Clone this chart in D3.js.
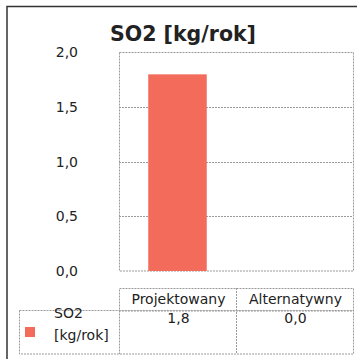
<!DOCTYPE html>
<html>
<head>
<meta charset="utf-8">
<script src="https://cdn.jsdelivr.net/npm/d3@7"></script>
<style>
  html, body { margin: 0; padding: 0; background: #fff; }
  svg { display: block; }
  text { font-family: "DejaVu Sans", "Liberation Sans", Arial, sans-serif; fill: #222; }
</style>
</head>
<body>
<svg id="chart" width="357" height="359"></svg>
<script>
// Emission data
const title = "SO2 [kg/rok]";
const categories = ["Projektowany", "Alternatywny"];
const seriesName = ["SO2", "[kg/rok]"];
const values = [1.8, 0.0];
const tickValues = [0, 0.5, 1.0, 1.5, 2.0];
const barColor = "#F26B5B";

const fmt = v => d3.format(".1f")(v).replace(".", ",");

const svg = d3.select("#chart");

// outer frame (top and left edges)
svg.append("path")
  .attr("d", "M7,359 L7,6.5 L357,6.5")
  .attr("fill", "none")
  .attr("stroke", "#333")
  .attr("stroke-width", 1.5);

const plot = { left: 119, right: 353, top: 52.5, bottom: 271 };

const y = d3.scaleLinear().domain([0, 2]).range([plot.bottom, plot.top]);
const x = d3.scaleBand().domain(categories)
  .range([plot.left, plot.right])
  .paddingInner(0.5).paddingOuter(0.25);
const col = d3.scaleBand().domain(categories).range([plot.left, plot.right]);

// title
svg.append("text")
  .attr("x", 183).attr("y", 41)
  .attr("text-anchor", "middle")
  .attr("font-weight", "bold")
  .attr("font-size", 20.5)
  .text(title);

// gridlines
svg.append("g").selectAll("line")
  .data(tickValues.filter(t => t > 0 && t < 2))
  .join("line")
  .attr("x1", plot.left).attr("x2", plot.right)
  .attr("y1", d => Math.round(y(d)) + 0.5).attr("y2", d => Math.round(y(d)) + 0.5)
  .attr("stroke", "#9a9a9a")
  .attr("stroke-dasharray", "2,1");

// plot frame
svg.append("rect")
  .attr("x", plot.left + 0.5).attr("y", plot.top)
  .attr("width", plot.right - plot.left).attr("height", plot.bottom - plot.top)
  .attr("fill", "none")
  .attr("stroke", "#9a9a9a")
  .attr("stroke-dasharray", "2,1");

// y axis labels
const yAxis = d3.axisLeft(y).tickValues(tickValues).tickFormat(fmt).tickSize(0).tickPadding(0);
const gy = svg.append("g").attr("transform", "translate(78,0)").call(yAxis);
gy.select(".domain").remove();
gy.selectAll("text")
  .attr("font-size", 14)
  .attr("font-family", "DejaVu Sans, sans-serif")
  .attr("fill", "#222");

// bars
svg.append("g").selectAll("rect")
  .data(values)
  .join("rect")
  .attr("x", (d, i) => x(categories[i]))
  .attr("width", x.bandwidth())
  .attr("y", d => y(d))
  .attr("height", d => y(0) - y(d))
  .attr("fill", barColor);

// data table
const tbl = { headTop: 288, rowTop: 310.5, rowBottom: 354, legendLeft: 19 };
const tg = svg.append("g")
  .attr("fill", "none")
  .attr("stroke", "#9a9a9a")
  .attr("stroke-dasharray", "2,1");
tg.append("rect")
  .attr("x", plot.left + 0.5).attr("y", tbl.headTop + 0.5)
  .attr("width", plot.right - plot.left).attr("height", tbl.rowTop - tbl.headTop);
tg.append("rect")
  .attr("x", tbl.legendLeft + 0.5).attr("y", tbl.rowTop)
  .attr("width", plot.right - tbl.legendLeft).attr("height", tbl.rowBottom - tbl.rowTop);
tg.append("line")
  .attr("x1", col(categories[1]) + 0.5).attr("x2", col(categories[1]) + 0.5)
  .attr("y1", tbl.headTop).attr("y2", tbl.rowBottom);
tg.append("line")
  .attr("x1", plot.left + 0.5).attr("x2", plot.left + 0.5)
  .attr("y1", tbl.rowTop).attr("y2", tbl.rowBottom);

// column headers
svg.append("g").selectAll("text")
  .data(categories)
  .join("text")
  .attr("x", d => col(d) + col.bandwidth() / 2 + 1)
  .attr("y", 304)
  .attr("text-anchor", "middle")
  .attr("font-size", 14)
  .text(d => d);

// values row
svg.append("g").selectAll("text")
  .data(values)
  .join("text")
  .attr("x", (d, i) => col(categories[i]) + col.bandwidth() / 2 + 1)
  .attr("y", 323)
  .attr("text-anchor", "middle")
  .attr("font-size", 14)
  .text(d => fmt(d));

// legend key and series name
svg.append("rect")
  .attr("x", 25).attr("y", 327).attr("width", 10).attr("height", 10)
  .attr("fill", barColor);
svg.append("g").selectAll("text")
  .data(seriesName)
  .join("text")
  .attr("x", 54)
  .attr("y", (d, i) => 318 + i * 22)
  .attr("font-size", 14)
  .text(d => d);
</script>
</body>
</html>
